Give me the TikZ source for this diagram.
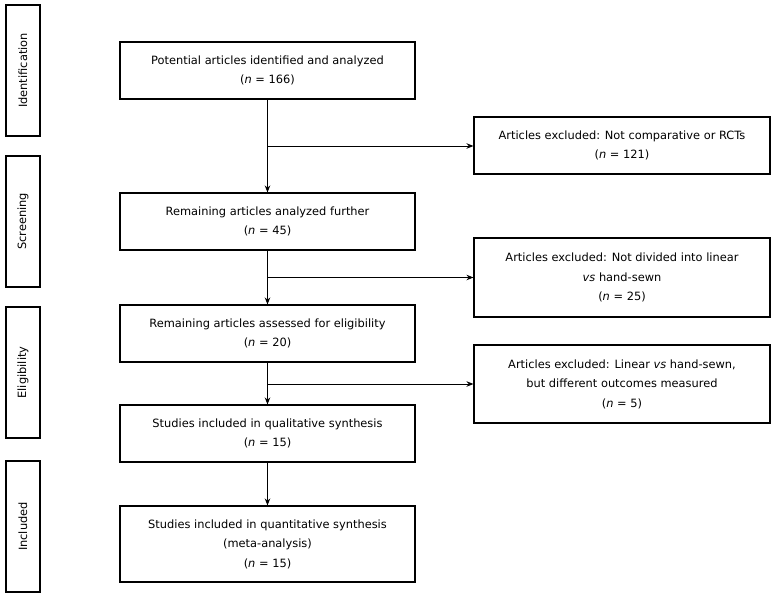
\documentclass[tikz,border=0pt]{standalone}
\usepackage{fontspec}
\setmainfont{DejaVu Sans}
\usetikzlibrary{arrows.meta}
\begin{document}
\begin{tikzpicture}[x=1pt,y=-1pt,
  box/.style={draw, line width=1.1pt, align=center, inner sep=0pt,
    font=\fontsize{11.4}{19.5}\selectfont},
  mainbox/.style={box, minimum width=295pt, minimum height=57pt},
  exbox/.style={box, minimum width=296pt},
  sidebox/.style={box, minimum width=131pt, minimum height=34pt, rotate=90},
  line/.style={line width=1pt},
  arr/.style={line, -{Stealth[length=7pt,width=5.5pt]}}]
\useasboundingbox (0,0) rectangle (774,598);
% phase labels
\node[sidebox] (s1) at (23,70.5) {Identification};
\node[sidebox] (s2) at (23,221.5) {Screening};
\node[sidebox] (s3) at (23,372.5) {Eligibility};
\node[sidebox] (s4) at (23,526.5) {Included};
% main column
\node[mainbox] (b1) at (267.5,70.5) {Potential articles identified and analyzed\\(\textit{n} = 166)};
\node[mainbox] (b2) at (267.5,221.5) {Remaining articles analyzed further\\(\textit{n} = 45)};
\node[mainbox] (b3) at (267.5,333.5) {Remaining articles assessed for eligibility\\(\textit{n} = 20)};
\node[mainbox] (b4) at (267.5,433.5) {Studies included in qualitative synthesis\\(\textit{n} = 15)};
\node[mainbox, minimum height=76pt] (b5) at (267.5,544) {Studies included in quantitative synthesis\\(meta-analysis)\\(\textit{n} = 15)};
% exclusion boxes
\node[exbox, minimum height=57pt] (r1) at (622,145.5) {Articles excluded: Not comparative or RCTs\\(\textit{n} = 121)};
\node[exbox, minimum height=79pt] (r2) at (622,277.5) {Articles excluded: Not divided into linear\\\textit{vs} hand-sewn\\(\textit{n} = 25)};
\node[exbox, minimum height=78pt] (r3) at (622,384) {Articles excluded: Linear \textit{vs} hand-sewn,\\but different outcomes measured\\(\textit{n} = 5)};
% junctions
\coordinate (j1) at (267.5,146);
\coordinate (j2) at (267.5,277.5);
\coordinate (j3) at (267.5,384);
% connectors
\draw[arr] (b1) -- (b2);
\draw[arr] (b2) -- (b3);
\draw[arr] (b3) -- (b4);
\draw[arr] (b4) -- (b5);
\draw[arr] (j1) -- (j1 -| r1.west);
\draw[arr] (j2) -- (r2.west);
\draw[arr] (j3) -- (r3.west);
\end{tikzpicture}
\end{document}
